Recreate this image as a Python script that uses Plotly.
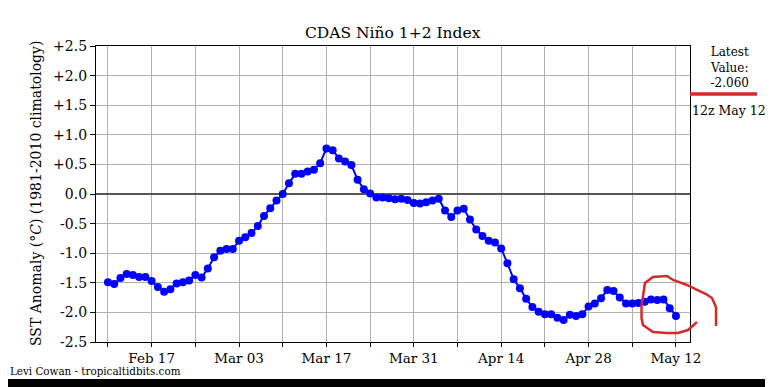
import pandas as pd
import plotly.graph_objects as go

# ---- data ----
start_date = "2025-02-10"
feb_vals = [-1.49, -1.52, -1.42, -1.35, -1.37, -1.40, -1.40, -1.47, -1.57, -1.65,
            -1.61, -1.51, -1.49, -1.46, -1.37, -1.41, -1.26, -1.07, -0.96]
mar_vals = [-0.93, -0.93, -0.79, -0.73, -0.66, -0.54, -0.37, -0.24, -0.11, 0.00,
            0.18, 0.34, 0.34, 0.38, 0.41, 0.52, 0.77, 0.74, 0.60, 0.55,
            0.49, 0.24, 0.08, 0.01, -0.06, -0.06, -0.07, -0.09, -0.08, -0.10, -0.15]
apr_vals = [-0.16, -0.14, -0.11, -0.08, -0.28, -0.39, -0.28, -0.25, -0.43, -0.60,
            -0.71, -0.79, -0.82, -0.92, -1.17, -1.44, -1.59, -1.77, -1.91, -1.99,
            -2.03, -2.03, -2.09, -2.13, -2.04, -2.06, -2.03, -1.90, -1.85, -1.76]
may_vals = [-1.62, -1.64, -1.75, -1.85, -1.85, -1.84, -1.82, -1.78, -1.79, -1.78,
            -1.93, -2.06]
values = feb_vals + mar_vals + apr_vals + may_vals
dates = pd.date_range(start_date, periods=len(values), freq="D")

x_tick_dates = pd.date_range("2025-02-10", "2025-05-12", freq="7D")
x_tick_labels = ["", "Feb 17", "", "Mar 03", "", "Mar 17", "", "Mar 31", "",
                 "Apr 14", "", "Apr 28", "", "May 12"]
y_tick_vals = [2.5, 2.0, 1.5, 1.0, 0.5, 0.0, -0.5, -1.0, -1.5, -2.0, -2.5]
y_tick_labels = ["+2.5", "+2.0", "+1.5", "+1.0", "+0.5", "0.0", "-0.5", "-1.0",
                 "-1.5", "-2.0", "-2.5"]
latest_value = -2.060
latest_label = "12z May 12"

# ---- layout geometry (window pixels; page body has an 8px margin) ----
OFF = 8
W, H = 773 - OFF, 387 - OFF
L, R, T, B = 96 - OFF, 690 - OFF, 46 - OFF, 342 - OFF

def px(xp, yp):
    """window pixel -> paper coords"""
    return (xp - OFF - L) / (R - L), (B - (yp - OFF)) / (B - T)

FONT = "DejaVu Serif, serif"
FONT_C = "DejaVu Serif Condensed, DejaVu Serif, serif"

fig = go.Figure()
fig.add_trace(go.Scatter(
    x=dates, y=values, mode="lines+markers",
    line=dict(color="#0000ff", width=2),
    marker=dict(color="#0000ff", size=8),
    showlegend=False, hoverinfo="skip"))

fig.update_layout(
    width=W, height=H,
    margin=dict(l=L, r=W - R, t=T, b=H - B, pad=0),
    paper_bgcolor="white", plot_bgcolor="white",
    font=dict(family=FONT, color="black", size=14),
    xaxis=dict(
        range=["2025-02-08 02:00", "2025-05-14 06:00"],
        tickvals=list(x_tick_dates), ticktext=x_tick_labels,
        ticks="outside", ticklen=4, tickwidth=1, tickcolor="black",
        showgrid=True, gridcolor="#b0b0b0", gridwidth=1,
        showline=True, linecolor="black", linewidth=1.3, mirror=True,
        zeroline=False, tickfont=dict(size=13.5, family=FONT)),
    yaxis=dict(
        range=[-2.5, 2.5], tickvals=y_tick_vals, ticktext=y_tick_labels,
        ticks="outside", ticklen=5, tickwidth=1, tickcolor="black",
        showgrid=True, gridcolor="#b0b0b0", gridwidth=1,
        showline=True, linecolor="black", linewidth=1.3, mirror=True,
        zeroline=True, zerolinecolor="#555555", zerolinewidth=1.5,
        tickfont=dict(size=14, family=FONT)),
)

ann = []
ann.append(dict(text="CDAS Niño 1+2 Index", xref="paper", yref="paper",
                x=px(393, 0)[0], y=px(0, 33)[1], xanchor="center", yanchor="middle",
                showarrow=False, font=dict(size=15.5, family=FONT)))
ann.append(dict(text="SST Anomaly (°<i>C</i>) (1981-2010 climatology)",
                xref="paper", yref="paper", x=px(36, 0)[0], y=px(0, 194)[1],
                xanchor="center", yanchor="middle", textangle=-90,
                showarrow=False, font=dict(size=14, family=FONT)))
ann.append(dict(text="Levi Cowan - tropicaltidbits.com", xref="paper", yref="paper",
                x=px(9, 0)[0], y=px(0, 379)[1], xanchor="left", yanchor="bottom",
                borderpad=0, showarrow=False, font=dict(size=11.5, family=FONT_C)))
ann.append(dict(text="Latest<br>Value:<br>%.3f" % latest_value, xref="paper", yref="paper",
                x=px(729, 0)[0], y=px(0, 67)[1], xanchor="center", yanchor="middle",
                showarrow=False, font=dict(size=12, family=FONT)))
ann.append(dict(text=latest_label, xref="paper", yref="paper",
                x=px(729, 0)[0], y=px(0, 110)[1], xanchor="center", yanchor="middle",
                showarrow=False, font=dict(size=12.5, family=FONT)))
fig.update_layout(annotations=ann)

# hand-drawn red marks
loop_px = [(697, 322), (688, 330), (678, 333), (667, 333), (653, 332), (643, 325),
           (641.5, 318), (641.5, 306), (645, 283), (653, 277), (667, 276), (673, 280),
           (687, 285), (697, 290), (706, 294), (712, 298), (716, 307), (716, 326)]
pts = [px(a, b) for a, b in loop_px]
path = "M " + " L ".join("%.4f,%.4f" % p for p in pts)
shapes = [
    dict(type="path", path=path, xref="paper", yref="paper",
         line=dict(color="#d42a2a", width=2.5), layer="above"),
]
x0, y0 = px(690, 94)
x1, _ = px(757, 94)
shapes.append(dict(type="line", xref="paper", yref="paper", x0=x0, x1=x1, y0=y0, y1=y0,
                   line=dict(color="#d42a2a", width=3.5), layer="above"))
# black frame bands from the screenshot
bx0, by0 = px(765, 0)
bx1, by1 = px(800, 400)
shapes.append(dict(type="rect", xref="paper", yref="paper", x0=bx0, x1=bx1, y0=by1, y1=by0,
                   fillcolor="black", line=dict(width=0), layer="above"))
cx0, cy0 = px(0, 379)
cx1, cy1 = px(800, 400)
shapes.append(dict(type="rect", xref="paper", yref="paper", x0=cx0, x1=cx1, y0=cy1, y1=cy0,
                   fillcolor="black", line=dict(width=0), layer="above"))
fig.update_layout(shapes=shapes)

fig.write_html("out.html")
